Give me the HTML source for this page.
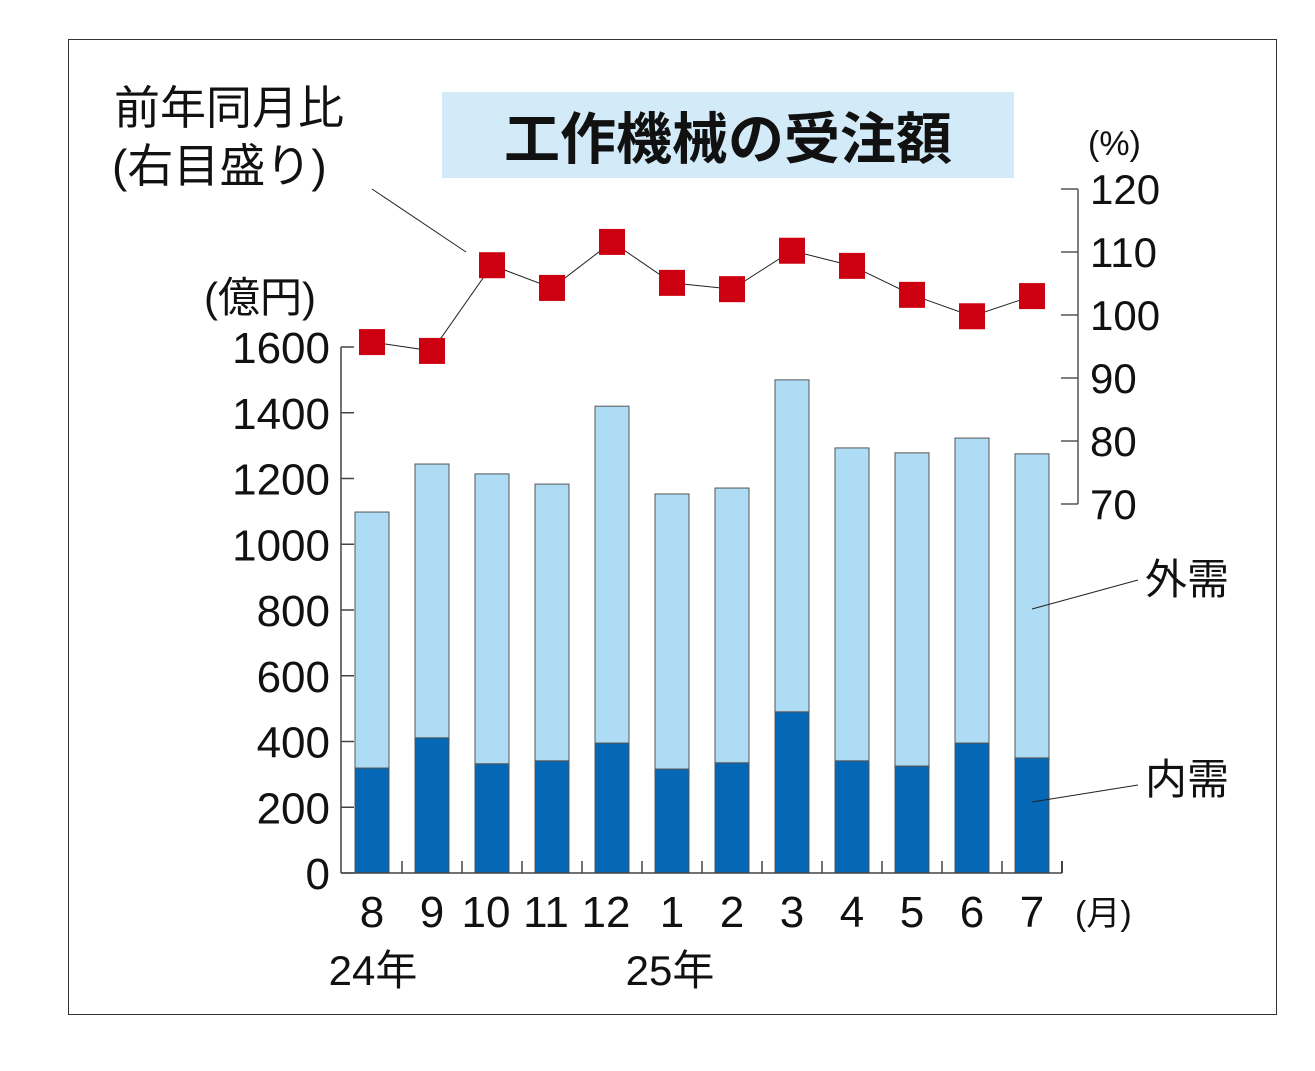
<!DOCTYPE html>
<html><head><meta charset="utf-8"><style>
body{margin:0;background:#fff;}
svg text{font-family:"Liberation Sans","Noto Sans CJK JP",sans-serif;fill:#111;}
</style></head><body>
<svg id="chart" width="1315" height="1066" viewBox="0 0 1315 1066" xmlns="http://www.w3.org/2000/svg">
<rect x="68.5" y="39.5" width="1208" height="975" fill="#fff" stroke="#333" stroke-width="1"/>
<rect x="442" y="92" width="572" height="86" fill="#d3ebf8"/>
<text x="728" y="159" font-size="56" font-weight="bold" text-anchor="middle">工作機械の受注額</text>
<text x="114" y="124" font-size="46">前年同月比</text>
<text x="112" y="182" font-size="46">(右目盛り)</text>
<line x1="372" y1="189" x2="466" y2="252" stroke="#222" stroke-width="1"/>
<text x="204" y="312" font-size="42">(億円)</text>
<text x="1088" y="155" font-size="34">(%)</text>
<g id="leftAxis"></g>
<g id="rightAxis"></g>
<g id="bars"></g>
<g id="xAxis"></g>
<g id="line"></g>
<text x="1075" y="925" font-size="34">(月)</text>
<text x="373" y="985" font-size="42" text-anchor="middle">24年</text>
<text x="670" y="985" font-size="42" text-anchor="middle">25年</text>
<line x1="1032" y1="609" x2="1138" y2="580" stroke="#222" stroke-width="1"/>
<text x="1145" y="594" font-size="42">外需</text>
<line x1="1032" y1="802" x2="1138" y2="785" stroke="#222" stroke-width="1"/>
<text x="1145" y="794" font-size="42">内需</text>
</svg>
<script>
const months=["8","9","10","11","12","1","2","3","4","5","6","7"];
const totalOrders=[1098,1244,1214,1183,1420,1153,1171,1500,1293,1278,1323,1275];
const domesticOrders=[319,411,332,341,395,316,335,490,341,325,395,350];
const yoyPercent=[95.7,94.3,107.9,104.3,111.6,105.1,104.1,110.2,107.8,103.2,99.8,103.0];
const leftTicks=[0,200,400,600,800,1000,1200,1400,1600];
const rightTicks=[70,80,90,100,110,120];

const NS="http://www.w3.org/2000/svg";
function mk(tag,attrs,parent){const e=document.createElementNS(NS,tag);for(const k in attrs)e.setAttribute(k,attrs[k]);parent.appendChild(e);return e;}
const yL=v=>873-v*(526/1600);
const yR=v=>504-(v-70)*6.3;
const xC=i=>372+i*60;

const la=document.getElementById('leftAxis');
let ax=mk('line',{x1:341,y1:347,x2:341,y2:873,stroke:'#444','stroke-width':1.5},la);


leftTicks.forEach(t=>{
  const l=mk('line',{x1:341,y1:yL(t),x2:354,y2:yL(t),stroke:'#444','stroke-width':1.5},la);
  
  
  const tx=mk('text',{x:330,y:yL(t)+16,'font-size':44,'text-anchor':'end'},la);
  tx.textContent=t;
  
  
});

const ra=document.getElementById('rightAxis');
let rax=mk('line',{x1:1078,y1:yR(120),x2:1078,y2:yR(70),stroke:'#555','stroke-width':1.5},ra);


rightTicks.forEach(t=>{
  const l=mk('line',{x1:1061,y1:yR(t),x2:1078,y2:yR(t),stroke:'#555','stroke-width':1.5},ra);
  
  
  const tx=mk('text',{x:1090,y:yR(t)+15,'font-size':42},ra);
  tx.textContent=t;
  
  
});

const bg=document.getElementById('bars');
months.forEach((m,i)=>{
  const x=xC(i)-17;
  const ex=mk('rect',{x:x,y:yL(totalOrders[i]),width:34,height:yL(domesticOrders[i])-yL(totalOrders[i]),fill:'#aedcf5',stroke:'#555','stroke-width':1},bg);
  
  
  const dm=mk('rect',{x:x,y:yL(domesticOrders[i]),width:34,height:873-yL(domesticOrders[i]),fill:'#0468b6',stroke:'#555','stroke-width':1},bg);
  
  
});

const xa=document.getElementById('xAxis');
let xl=mk('line',{x1:341,y1:873,x2:1062,y2:873,stroke:'#444','stroke-width':1.5},xa);


months.forEach((m,i)=>{
  if(i>0){
    const tk=mk('line',{x1:xC(i)-30,y1:861,x2:xC(i)-30,y2:873,stroke:'#444','stroke-width':1.5},xa);
    
    
  }
  const tk2=mk('line',{x1:1062,y1:861,x2:1062,y2:873,stroke:'#444','stroke-width':1.5},xa);
  const tx=mk('text',{x:xC(i)-(m.length>1?6:0),y:927,'font-size':44,'text-anchor':'middle'},xa);
  tx.textContent=m;
  
  
});

const lg=document.getElementById('line');
const pts=yoyPercent.map((v,i)=>xC(i)+','+yR(v)).join(' ');
const pl=mk('polyline',{points:pts,fill:'none',stroke:'#222','stroke-width':1},lg);


yoyPercent.forEach((v,i)=>{
  const r=mk('rect',{x:xC(i)-13,y:yR(v)-13,width:26,height:26,fill:'#cc0010'},lg);
  
  
});
</script>
</body></html>
